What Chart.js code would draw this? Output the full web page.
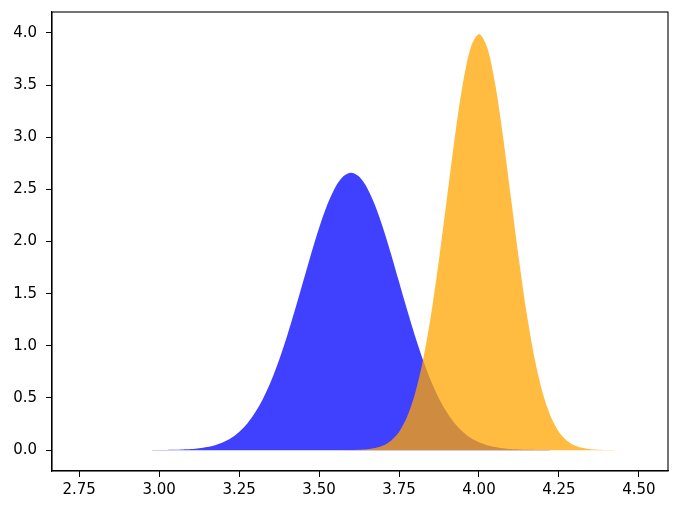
<!DOCTYPE html>
<html>
<head>
    <title>Two densities</title>
    <script src="https://cdn.jsdelivr.net/npm/chart.js"></script>
    <style>
        html, body { margin: 0; padding: 0; background: #fff; }
        #wrap { width: 680px; height: 512px; }
    </style>
</head>
<body>
    <div id="wrap"><canvas id="densityChart"></canvas></div>

    <script>
        // blue curve
        const blueX = [2.950, 2.975, 3.000, 3.025, 3.050, 3.075, 3.100, 3.125, 3.150, 3.175,
                       3.200, 3.225, 3.250, 3.275, 3.300, 3.325, 3.350, 3.375, 3.400, 3.425,
                       3.450, 3.475, 3.500, 3.525, 3.550, 3.575, 3.600, 3.625, 3.650, 3.675,
                       3.700, 3.725, 3.750, 3.775, 3.800, 3.825, 3.850, 3.875, 3.900, 3.925,
                       3.950, 3.975, 4.000, 4.025, 4.050, 4.075, 4.100, 4.125, 4.150, 4.175,
                       4.200, 4.225, 4.250];
        const blueY = [0.000, 0.000, 0.001, 0.002, 0.003, 0.006, 0.010, 0.018, 0.030, 0.048,
                       0.076, 0.117, 0.175, 0.254, 0.360, 0.495, 0.663, 0.864, 1.094, 1.347,
                       1.613, 1.880, 2.130, 2.347, 2.516, 2.623, 2.660, 2.623, 2.516, 2.347,
                       2.130, 1.880, 1.613, 1.347, 1.094, 0.864, 0.663, 0.495, 0.360, 0.254,
                       0.175, 0.117, 0.076, 0.048, 0.030, 0.018, 0.010, 0.006, 0.003, 0.002,
                       0.001, 0.000, 0.000];

        // orange curve
        const orangeX = [3.575, 3.600, 3.625, 3.650, 3.675, 3.700, 3.725, 3.750, 3.775, 3.800,
                         3.825, 3.850, 3.875, 3.900, 3.925, 3.950, 3.975, 4.000, 4.025, 4.050,
                         4.075, 4.100, 4.125, 4.150, 4.175, 4.200, 4.225, 4.250, 4.275, 4.300,
                         4.325, 4.350, 4.375, 4.400, 4.425];
        const orangeY = [0.000, 0.001, 0.004, 0.009, 0.020, 0.044, 0.091, 0.175, 0.317, 0.540,
                         0.863, 1.295, 1.827, 2.420, 3.012, 3.521, 3.867, 3.990, 3.867, 3.521,
                         3.012, 2.420, 1.827, 1.295, 0.863, 0.540, 0.317, 0.175, 0.091, 0.044,
                         0.020, 0.009, 0.004, 0.001, 0.000];

        const xTicks = [2.75, 3.00, 3.25, 3.50, 3.75, 4.00, 4.25, 4.50];
        const yTicks = [0.0, 0.5, 1.0, 1.5, 2.0, 2.5, 3.0, 3.5, 4.0];

        const toPoints = (xs, ys) => xs.map((x, i) => ({ x: x, y: ys[i] }));

        // matplotlib style box round the plot area
        const frame = {
            id: 'frame',
            afterDraw(chart) {
                const { ctx, chartArea: a } = chart;
                ctx.save();
                ctx.strokeStyle = '#000';
                ctx.lineWidth = 1.1;
                ctx.strokeRect(a.left, a.top, a.right - a.left, a.bottom - a.top);
                ctx.restore();
            }
        };

        Chart.defaults.font.family = '"DejaVu Sans", sans-serif';
        Chart.defaults.font.size = 15;
        Chart.defaults.color = '#000';

        new Chart(document.getElementById('densityChart'), {
            type: 'scatter',
            data: {
                datasets: [
                    {
                        data: toPoints(orangeX, orangeY),
                        showLine: true,
                        borderWidth: 0,
                        borderColor: 'rgba(255,165,0,0)',
                        backgroundColor: 'rgba(255,165,0,0.75)',
                        fill: 'origin',
                        pointRadius: 0,
                        tension: 0.3
                    },
                    {
                        data: toPoints(blueX, blueY),
                        showLine: true,
                        borderWidth: 0,
                        borderColor: 'rgba(0,0,255,0)',
                        backgroundColor: 'rgba(0,0,255,0.75)',
                        fill: 'origin',
                        pointRadius: 0,
                        tension: 0.3
                    }
                ]
            },
            options: {
                responsive: true,
                maintainAspectRatio: false,
                animation: false,
                layout: { padding: { top: 12, right: 12, left: 0, bottom: 0 } },
                plugins: { legend: { display: false }, tooltip: { enabled: false } },
                scales: {
                    x: {
                        type: 'linear',
                        min: 2.665,
                        max: 4.591,
                        afterBuildTicks: s => { s.ticks = xTicks.map(v => ({ value: v })); },
                        afterFit: s => { s.height = 41; s.paddingLeft = 0; s.paddingRight = 0; },
                        ticks: { callback: v => v.toFixed(2), padding: 4, maxRotation: 0 },
                        grid: { drawOnChartArea: false, tickLength: 6, color: '#000', tickWidth: 1 },
                        border: { color: '#000', width: 1.1 }
                    },
                    y: {
                        min: -0.2,
                        max: 4.2,
                        afterBuildTicks: s => { s.ticks = yTicks.map(v => ({ value: v })); },
                        afterFit: s => { s.width = 52; s.paddingTop = 0; s.paddingBottom = 0; },
                        ticks: { callback: v => v.toFixed(1), padding: 9 },
                        grid: { drawOnChartArea: false, tickLength: 6, color: '#000', tickWidth: 1 },
                        border: { color: '#000', width: 1.1 }
                    }
                }
            },
            plugins: [frame]
        });
    </script>
</body>
</html>
